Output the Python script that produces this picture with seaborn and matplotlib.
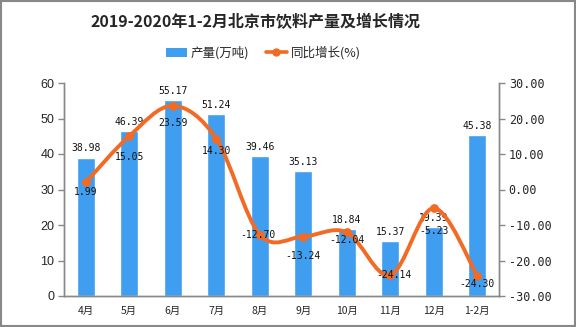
import matplotlib
matplotlib.use("Agg")
import matplotlib.pyplot as plt
import seaborn as sns
import numpy as np
import pandas as pd
from matplotlib.path import Path
from matplotlib.patches import PathPatch, Rectangle
from matplotlib.lines import Line2D
from matplotlib.patches import Patch

months = ["4月", "5月", "6月", "7月", "8月", "9月", "10月", "11月", "12月", "1-2月"]
output = [38.98, 46.39, 55.17, 51.24, 39.46, 35.13, 18.84, 15.37, 19.39, 45.38]
growth = [1.99, 15.05, 23.59, 14.30, -12.70, -13.24, -12.04, -24.14, -5.23, -24.30]

# label offsets (pixels, style only) for growth labels
growth_dy = [-10, -21, -17, -12, 0, -19, -8, 0, -23, -8]
growth_dx = [0, 0, 0, 0, -2, 0, 0, 4, 0, 0]

BAR = "#3f9ef0"
LINE = "#f26a24"
CJK = ["Noto Sans CJK SC", "DejaVu Sans"]
MONO = ["DejaVu Sans Mono"]

sns.set_theme(style="white")
plt.rcParams["font.family"] = CJK

fig = plt.figure(figsize=(5.76, 3.27), dpi=100)
ax = fig.add_axes([64/576, 1-296/327, (499-64)/576, (296-83)/327])
ax2 = ax.twinx()

df = pd.DataFrame({"month": months, "output": output, "growth": growth})
sns.barplot(data=df, x="month", y="output", color=BAR, width=0.42,
            saturation=1, ax=ax, zorder=2)

ax.set_xlim(-0.5, len(months) - 0.5)
ax.set_ylim(0, 60)
ax.set_yticks(range(0, 61, 10))
ax2.set_ylim(-30, 30)
ax2.set_yticks(range(-30, 31, 10))
ax2.set_yticklabels([f"{v:.2f}" for v in range(-30, 31, 10)],
                    family=MONO, fontsize=8.5)
ax.set_yticklabels([str(v) for v in range(0, 61, 10)],
                   family=["Liberation Sans"], fontsize=9)
ax.set_xlabel("")
ax.set_ylabel("")
ax2.set_ylabel("")
ax.set_xticks(range(len(months)))
ax.set_xticklabels(months, fontsize=7.5, family=CJK)
ax.set_xticks(np.arange(-0.5, len(months), 1), minor=True)
ax.tick_params(axis="x", which="major", length=0, pad=7)
ax.tick_params(axis="x", which="minor", length=4, color="#888888", width=1,
               direction="out")
ax.tick_params(axis="y", length=4, color="#888888", width=1, direction="out",
               left=True, pad=3)
ax2.tick_params(axis="y", length=4, color="#888888", width=1, direction="out",
                right=True, pad=3)

for a in (ax, ax2):
    a.grid(False)
    for s in ("top",):
        a.spines[s].set_visible(False)
    for s in ("left", "right", "bottom"):
        a.spines[s].set_color("#888888")
        a.spines[s].set_linewidth(1)

# bar value labels
for i, v in enumerate(output):
    ax.annotate(f"{v:.2f}", (i, v), xytext=(0, 3), textcoords="offset points",
                ha="center", va="bottom", fontsize=7, family=MONO, color="#111111",
                zorder=5)

# smooth line (Catmull-Rom as Bezier path)
x = np.arange(len(growth), dtype=float)
y = np.array(growth, dtype=float)
verts = [(x[0], y[0])]
codes = [Path.MOVETO]
n = len(x)
for i in range(n - 1):
    p0 = np.array([x[max(i - 1, 0)], y[max(i - 1, 0)]])
    p1 = np.array([x[i], y[i]])
    p2 = np.array([x[i + 1], y[i + 1]])
    p3 = np.array([x[min(i + 2, n - 1)], y[min(i + 2, n - 1)]])
    c1 = p1 + (p2 - p0) / 6
    c2 = p2 - (p3 - p1) / 6
    verts += [tuple(c1), tuple(c2), tuple(p2)]
    codes += [Path.CURVE4] * 3
ax2.add_patch(PathPatch(Path(verts, codes), facecolor="none", edgecolor=LINE,
                        lw=2.8, zorder=3, capstyle="round"))
sns.scatterplot(data=df.assign(xi=x), x="xi", y="growth", ax=ax2, color=LINE,
                s=40, edgecolor=LINE, linewidth=0, zorder=4, legend=False)
ax2.set_xlabel("")
ax2.set_ylabel("")
ax.set_xlim(-0.5, len(months) - 0.5)

for i, v in enumerate(growth):
    ax2.annotate(f"{v:.2f}", (i, v), xytext=(growth_dx[i] * 0.72, growth_dy[i] * 0.72),
                 textcoords="offset points", ha="center", va="center",
                 fontsize=7, family=MONO, color="#111111", zorder=6)

# title
fig.text(0.443, 1 - 22/327, "2019-2020年1-2月北京市饮料产量及增长情况",
         ha="center", va="center", fontsize=11.5, fontweight="bold", family=CJK)

# legend
handles = [Patch(facecolor=BAR, edgecolor="none"),
           Line2D([], [], color=LINE, lw=2.6, marker="o", markersize=5)]
leg = fig.legend(handles, ["产量(万吨)", "同比增长(%)"], loc="center",
                 bbox_to_anchor=(0.457, 1 - 53/327), ncol=2, frameon=False,
                 fontsize=9, handlelength=1.7, handleheight=0.8,
                 columnspacing=1.3, handletextpad=0.3, borderpad=0)

# border
fig.patches.append(Rectangle((0.001, 0.002), 0.997, 0.996, transform=fig.transFigure,
                             fill=False, edgecolor="#888888", lw=1.5))

fig.savefig("out.png", dpi=100)
